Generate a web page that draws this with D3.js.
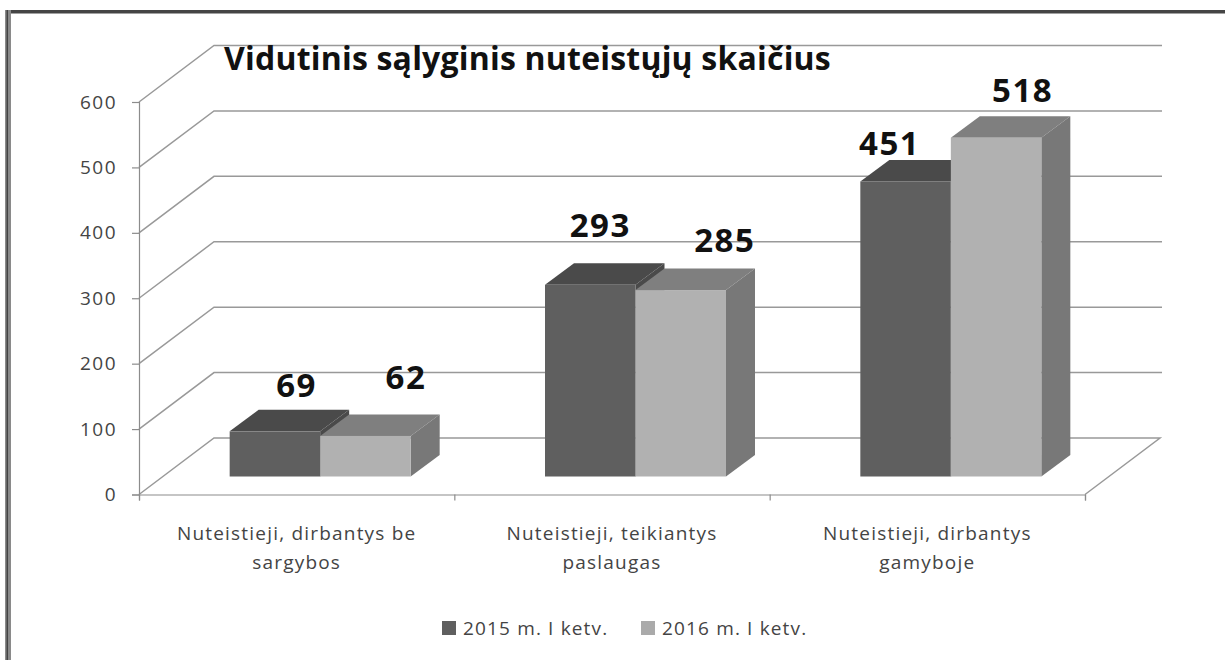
<!DOCTYPE html>
<html><head><meta charset="utf-8">
<script src="https://cdnjs.cloudflare.com/ajax/libs/d3/7.8.5/d3.min.js"></script>
<style>html,body{margin:0;background:#fff}svg{display:block}text{font-family:"Open Sans",sans-serif}</style>
</head><body><svg id="c" width="1225" height="660"></svg>
<script>
const title = "Vidutinis sąlyginis nuteistųjų skaičius";
const categories = ["Nuteistieji, dirbantys be sargybos","Nuteistieji, teikiantys paslaugas","Nuteistieji, dirbantys gamyboje"];
const categoryLines = [["Nuteistieji, dirbantys be","sargybos"],["Nuteistieji, teikiantys","paslaugas"],["Nuteistieji, dirbantys","gamyboje"]];
const seriesNames = ["2015 m. I ketv.","2016 m. I ketv."];
const values2015 = [69,293,451];
const values2016 = [62,285,518];
const yTicks = [0,100,200,300,400,500,600];

const svg = d3.select("#c");
const y = d3.scaleLinear().domain([0,600]).range([494.5,102]);
const x = d3.scaleBand().domain(categories).range([139,1085]);
const wallDx = 75, wallDy = -56.5;   // oblique depth of chart box
const barDx = 29, barDy = -21.5;     // oblique depth of bars
const barShiftX = 23.5, barShiftY = -18; // bars sit mid-depth
const barW = 90.5;

// frame
svg.append("rect").attr("x",5).attr("y",10).attr("width",1220).attr("height",3.5).attr("fill","#454545");
svg.append("rect").attr("x",5).attr("y",10).attr("width",6).attr("height",650).attr("fill","#8a8a8a");
svg.append("rect").attr("x",6.5).attr("y",10).attr("width",1.5).attr("height",650).attr("fill","#444");

// grid
const grid = svg.append("g").attr("fill","none").attr("stroke","#999").attr("stroke-width",1.5);
yTicks.forEach(t=>{
  if(t===0) return;
  grid.append("path").attr("d",`M139,${y(t)}L${139+wallDx},${y(t)+wallDy}L1162,${y(t)+wallDy}`);
});
grid.append("path").attr("d",`M139,${y(0)}L${139+wallDx},${y(0)+wallDy}L1160,${y(0)+wallDy}L1085,${y(0)}`);
// axes
const yAxis = d3.axisLeft(y).tickValues(yTicks).tickSize(7).tickPadding(15);
const gy = svg.append("g").attr("transform","translate(139,0)").call(yAxis);
const xAxis = d3.axisBottom(d3.scalePoint().domain(d3.range(4)).range([139,1085])).tickSize(6).tickFormat("");
const gx = svg.append("g").attr("transform",`translate(0,${y(0)})`).call(xAxis);
[gy,gx].forEach(g=>{g.selectAll("path,line").attr("stroke","#8c8c8c").attr("stroke-width",1.2);});
gy.selectAll("text").attr("fill","#444").style("font-size","19px").style("letter-spacing","1.5px");

// bars
const poly = pts => "M"+pts.map(p=>p.join(",")).join("L")+"Z";
const series = [
  {vals:values2015, front:"#5f5f5f", top:"#4a4a4a", side:"#4a4a4a", off:-barW, labelDx:[21.7,10,-16], labelDy:[-34.4,-48,-26.5]},
  {vals:values2016, front:"#b1b1b1", top:"#7f7f7f", side:"#787878", off:0, labelDx:[40.5,44,26.5], labelDy:[-47,-37.7,-35.7]}
];
const barLayer = svg.append("g"), labelLayer = svg.append("g");
categories.forEach((c,i)=>{
  const cx = x(c)+x.bandwidth()/2+barShiftX;
  series.forEach(s=>{
    const v = s.vals[i];
    const x0 = cx+s.off, x1 = x0+barW, yb = y(0)+barShiftY, yt = y(v)+barShiftY;
    barLayer.append("path").attr("fill",s.top).attr("d",poly([[x0,yt],[x0+barDx,yt+barDy],[x1+barDx,yt+barDy],[x1,yt]]));
    barLayer.append("path").attr("fill",s.side).attr("d",poly([[x1,yt],[x1+barDx,yt+barDy],[x1+barDx,yb+barDy],[x1,yb]]));
    barLayer.append("rect").attr("x",x0).attr("y",yt).attr("width",barW).attr("height",yb-yt).attr("fill",s.front);
    labelLayer.append("text").text(v).attr("x",x0+barW/2+s.labelDx[i]).attr("y",yt+s.labelDy[i])
      .attr("text-anchor","middle").attr("fill","#111").style("font-size","33px").style("font-weight",700).style("letter-spacing","1.5px");
  });
  categoryLines[i].forEach((ln,k)=>{
    svg.append("text").text(ln).attr("x",x(c)+x.bandwidth()/2).attr("y",540+k*29)
      .attr("text-anchor","middle").attr("fill","#444").style("font-size","19px").style("letter-spacing","1.2px");
  });
});

// title
svg.append("text").text(title).attr("x",224).attr("y",69.5).attr("fill","#111")
  .style("font-size","32px").style("font-weight",700).style("letter-spacing","0.2px");

// legend
const legX = [442,641];
seriesNames.forEach((n,i)=>{
  svg.append("rect").attr("x",legX[i]).attr("y",621).attr("width",14).attr("height",14).attr("fill",i?"#aaaaaa":series[i].front);
  svg.append("text").text(n).attr("x",legX[i]+21).attr("y",635).attr("fill","#444").style("font-size","19px").style("letter-spacing","1.15px");
});
</script></body></html>
